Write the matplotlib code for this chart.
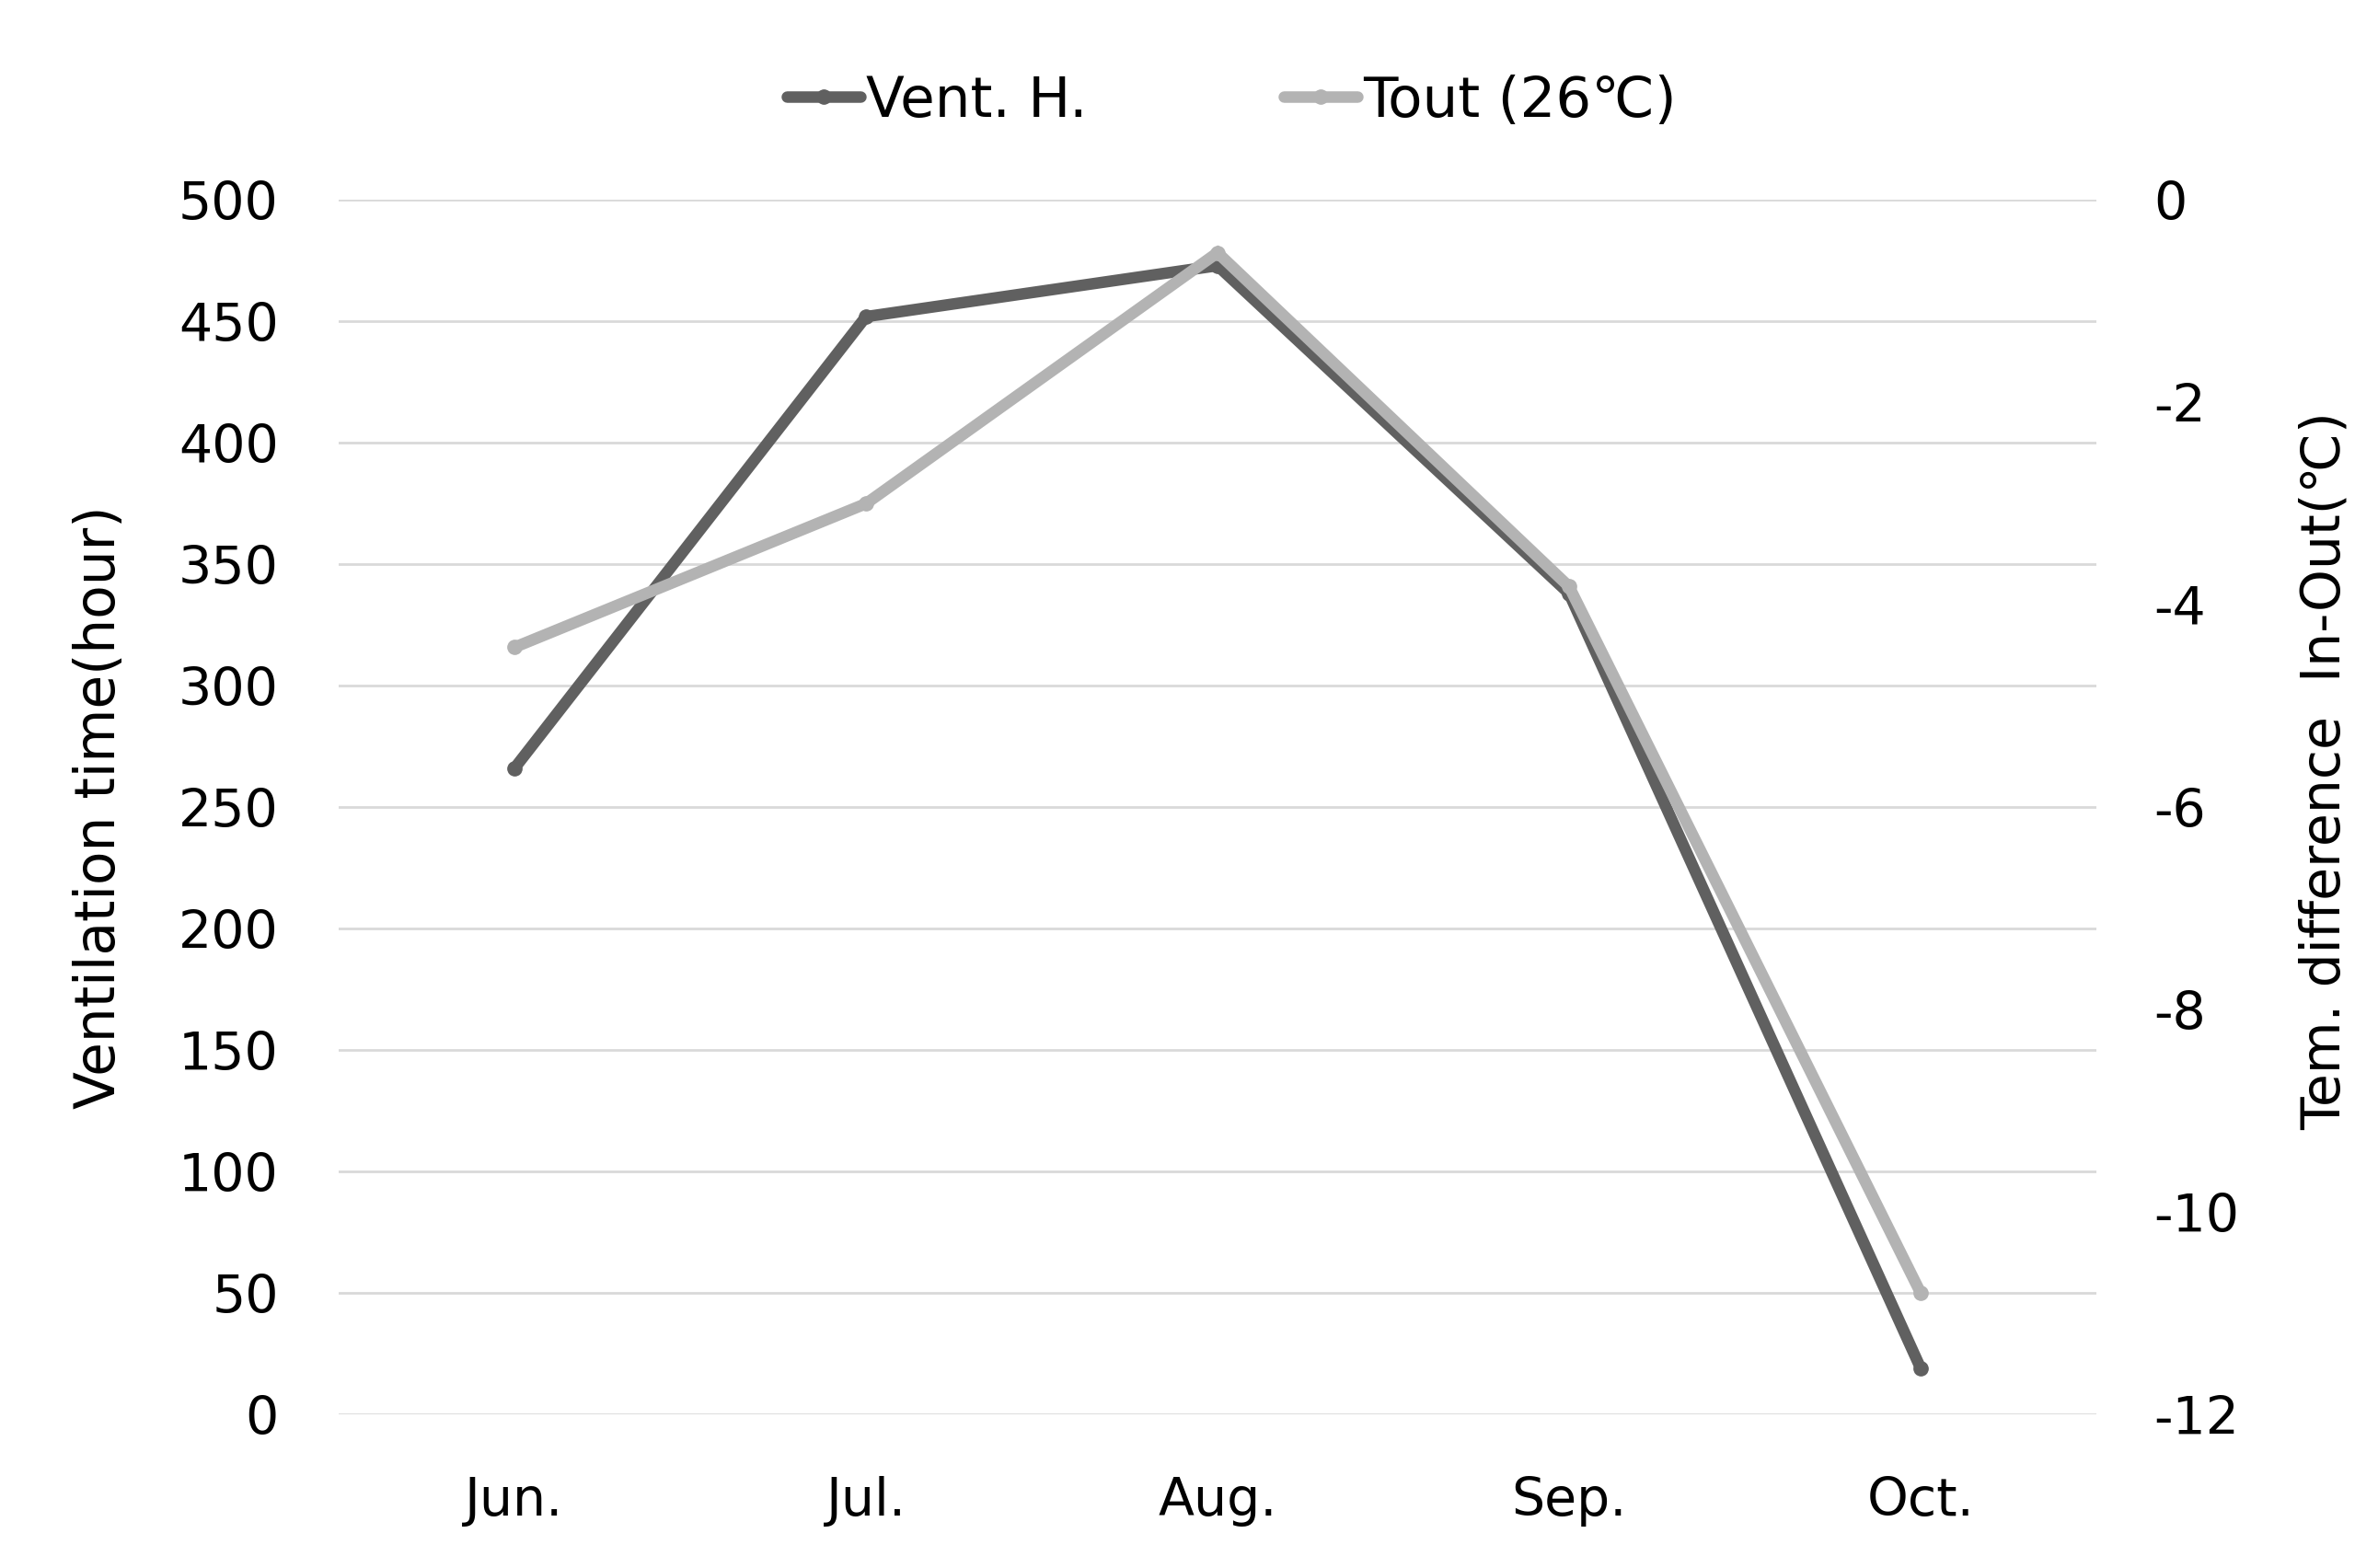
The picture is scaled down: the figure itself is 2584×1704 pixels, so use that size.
import numpy as np
import matplotlib
matplotlib.use('Agg')
import matplotlib.pyplot as plt

# data
months = ['Jun.', 'Jul.', 'Aug.', 'Sep.', 'Oct.']
vent_h = [266, 452, 473, 338, 19]          # hours, left axis
tout_26 = [-4.42, -3.0, -0.52, -3.82, -10.8]  # degC, right axis

dark = '#606060'
light = '#b3b3b3'
grid_c = '#d9d9d9'
narrow = ['Liberation Sans Narrow', 'DejaVu Sans']

fig = plt.figure(figsize=(25.84, 17.04), dpi=100)
ax = fig.add_axes([0.1424, 0.098, 0.8816 - 0.1424, 0.8724 - 0.098])
ax2 = ax.twinx()

x = np.arange(len(months))
l1, = ax.plot(x, vent_h, color=dark, lw=9, marker='o', ms=11,
              solid_joinstyle='miter', solid_capstyle='round', label='Vent. H.', zorder=3)
l2, = ax2.plot(x, tout_26, color=light, lw=9, marker='o', ms=11,
               solid_joinstyle='miter', solid_capstyle='round', label='Tout (26\u2103)', zorder=4)

ax.set_xlim(-0.5, 4.5)
ax.set_ylim(0, 500)
ax.set_yticks(np.arange(0, 501, 50))
ax2.set_ylim(-12, 0)
ax2.set_yticks(np.arange(-12, 1, 2))
ax2.set_yticklabels([str(v) for v in range(-12, 1, 2)])

ax.yaxis.grid(True, color=grid_c, lw=2)
ax.set_axisbelow(True)
for a in (ax, ax2):
    for s in a.spines.values():
        s.set_visible(False)
    a.tick_params(length=0, labelsize=41, colors='black')

ax.set_xticks(x)
ax.set_xticklabels(months)
ax.tick_params(axis='x', pad=48)
ax.tick_params(axis='y', pad=47)
ax2.tick_params(axis='y', pad=45)

ax.set_ylabel('Ventilation time(hour)', fontsize=43, family=narrow, labelpad=40)
ax2.set_ylabel('Tem. difference  In-Out(\u2103)', fontsize=42, family=narrow, labelpad=45)
ax2.yaxis.set_label_coords(1.115, 0.53)

fig.legend(handles=[l1, l2], loc='upper center', bbox_to_anchor=(0.518, 0.985), ncol=2,
           frameon=False, prop={'family': narrow, 'size': 44}, handlelength=1.3,
           handletextpad=0.1, columnspacing=3.5)

fig.savefig('out.png', dpi=100, facecolor='white')
